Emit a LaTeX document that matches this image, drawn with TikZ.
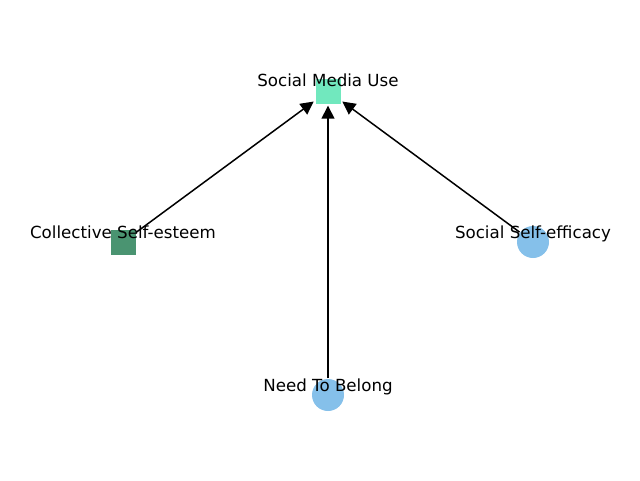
\documentclass[tikz,border=0pt]{standalone}
\usepackage{fontspec}
\setmainfont{DejaVu Sans}
\usetikzlibrary{arrows.meta}
\definecolor{smucol}{RGB}{113,232,190}
\definecolor{csecol}{RGB}{74,148,113}
\definecolor{bluecol}{RGB}{133,192,234}
\tikzset{
  sqnode/.style={rectangle, minimum size=25pt, inner sep=0pt, draw=none},
  cinode/.style={circle, minimum size=32pt, inner sep=0pt, draw=none, fill=bluecol},
  lbl/.style={font=\fontsize{16.67}{20}\selectfont, inner sep=0pt, text=black, anchor=base},
  edge/.style={line width=1.5pt, -{Triangle[length=13pt,width=13pt]}, shorten >=2pt, shorten <=0.5pt}
}
\begin{document}
\begin{tikzpicture}[x=1pt,y=-1pt]
\useasboundingbox (0,0) rectangle (640,480);
\node[sqnode, fill=smucol] (smu) at (328,91) {};
\node[sqnode, fill=csecol] (cse) at (123,242) {};
\node[cinode] (sse) at (533,242) {};
\node[cinode] (ntb) at (328,395) {};
\draw[edge] (cse) -- (smu);
\draw[edge] (sse) -- (smu);
\draw[edge] (ntb) -- (smu);
\node[lbl] (lsmu) at (328,86) {Social Media Use};
\node[lbl] (lcse) at (123,238) {Collective Self-esteem};
\node[lbl] (lsse) at (533,238) {Social Self-efficacy};
\node[lbl] (lntb) at (328,391) {Need To Belong};
\end{tikzpicture}
\end{document}
